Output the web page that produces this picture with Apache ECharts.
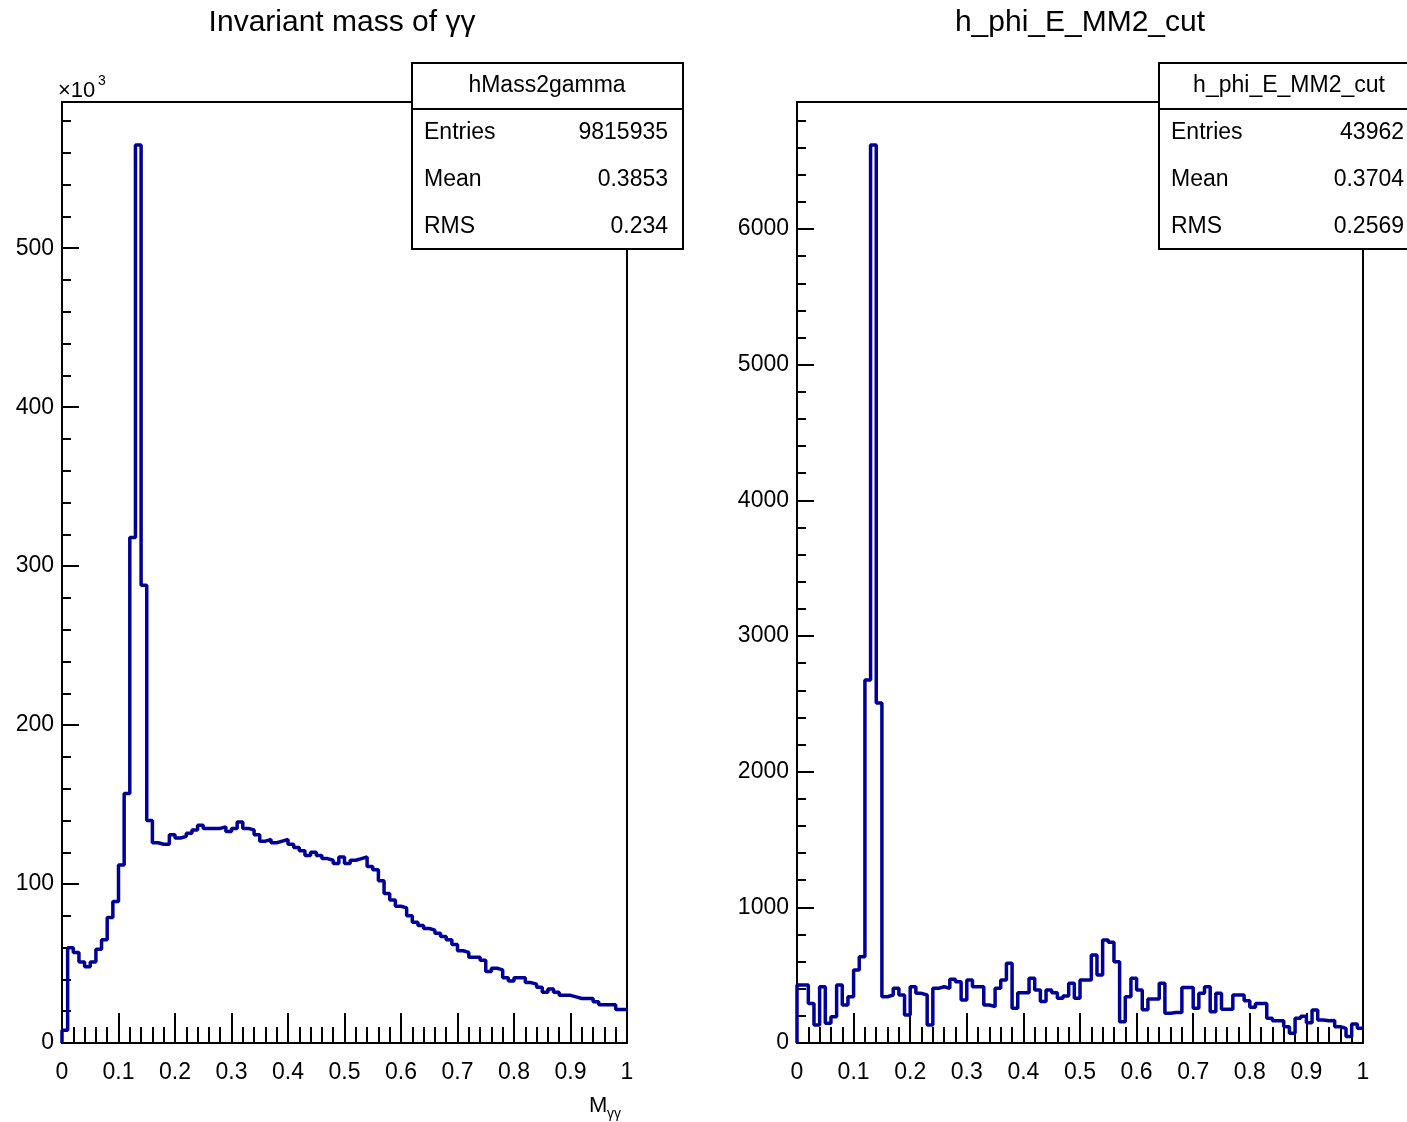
<!DOCTYPE html>
<html>
<head>
<meta charset="utf-8">
<title>Invariant mass of γγ</title>
<script src="https://cdn.jsdelivr.net/npm/echarts@6/dist/echarts.min.js"></script>
<style>
  html, body { margin: 0; padding: 0; background: #fff; }
  #chart { width: 1407px; height: 1122px; }
</style>
</head>
<body>
<div id="chart"></div>
<script>
// 100 bins of width 0.01 on [0, 1]
const binWidth = 0.01

// hMass2gamma, counts in units of 10^3
const massCounts = [
  8, 60, 57, 51, 48, 51, 59, 65, 79, 89,
  112, 157, 318, 565, 288, 140, 126, 125, 125, 131,
  129, 130, 132, 134, 137, 135, 135, 135, 136, 133,
  135, 139, 135, 134, 131, 127, 128, 126, 127, 128,
  125, 123, 121, 118, 120, 118, 116, 115, 113, 117,
  113, 115, 116, 117, 111, 109, 102, 94, 90, 86,
  85, 80, 76, 74, 72, 71, 69, 67, 65, 62,
  58, 57, 54, 54, 52, 45, 47, 46, 41, 39,
  41, 41, 38, 37, 35, 32, 34, 32, 30, 30,
  29, 28, 28, 28, 26, 24, 24, 24, 21, 21
]

// h_phi_E_MM2_cut counts
const cutCounts = [
  427, 427, 292, 133, 415, 145, 194, 427, 280, 341,
  538, 636, 2676, 6619, 2506, 341, 354, 403, 354, 206,
  415, 366, 354, 133, 403, 415, 403, 469, 452, 317,
  464, 415, 415, 280, 268, 403, 464, 587, 256, 371,
  371, 477, 391, 305, 391, 371, 329, 346, 440, 329,
  464, 464, 649, 501, 759, 742, 599, 157, 341, 477,
  391, 246, 325, 325, 440, 219, 225, 225, 410, 410,
  256, 366, 415, 231, 366, 248, 248, 354, 354, 312,
  263, 292, 292, 182, 164, 164, 120, 71, 182, 198,
  150, 243, 170, 164, 166, 120, 108, 47, 140, 108
]

const massStats = [['Entries', '9815935'], ['Mean', '0.3853'], ['RMS', '0.234']]
const cutStats = [['Entries', '43962'], ['Mean', '0.3704'], ['RMS', '0.2569']]

const font = '"Liberation Sans", Arial, sans-serif'
const lineColor = '#000099'

function stepPoints(counts) {
  const pts = counts.map((v, i) => [+(i * binWidth).toFixed(2), v])
  pts.unshift([0, 0])
  pts.push([1, counts[counts.length - 1]])
  return pts
}

function xAxisFor(gridIndex) {
  return {
    type: 'value',
    gridIndex,
    min: 0,
    max: 1,
    interval: 0.1,
    axisLine: { lineStyle: { color: '#000', width: 2 } },
    axisTick: { inside: true, length: 30, lineStyle: { color: '#000', width: 2 } },
    minorTick: { show: true, splitNumber: 5, length: 16, lineStyle: { color: '#000', width: 2 } },
    splitLine: { show: false },
    axisLabel: { color: '#000', fontSize: 23, fontFamily: font, margin: 18 }
  }
}

function yAxisFor(gridIndex, max, step) {
  return {
    type: 'value',
    gridIndex,
    min: 0,
    max,
    interval: step,
    axisLine: { lineStyle: { color: '#000', width: 2 } },
    axisTick: { inside: true, length: 17, lineStyle: { color: '#000', width: 2 } },
    minorTick: { show: true, splitNumber: 5, length: 9, lineStyle: { color: '#000', width: 2 } },
    splitLine: { show: false },
    axisLabel: {
      color: '#000', fontSize: 23, fontFamily: font, margin: 8,
      formatter: (v) => (v % step === 0 ? String(v) : '')
    }
  }
}

function text(x, y, str, size, align) {
  return {
    type: 'text', x, y, z: 120,
    style: {
      text: str, fill: '#000', fontSize: size, fontFamily: font,
      align: align, textAlign: align, verticalAlign: 'middle', textVerticalAlign: 'middle'
    }
  }
}

// stats box like ROOT's TPaveStats
function statsBox(x, w, titleX, valueX, name, rows) {
  const els = [
    { type: 'rect', z: 110, shape: { x, y: 63, width: w, height: 186 },
      style: { fill: '#fff', stroke: '#000', lineWidth: 2 } },
    { type: 'line', z: 111, shape: { x1: x, y1: 109, x2: x + w, y2: 109 },
      style: { stroke: '#000', lineWidth: 2 } },
    text(titleX, 86, name, 23, 'center')
  ]
  rows.forEach((r, i) => {
    els.push(text(x + 12, 133 + i * 47, r[0], 23, 'left'))
    els.push(text(valueX, 133 + i * 47, r[1], 23, 'right'))
  })
  return els
}

const chart = echarts.init(document.getElementById('chart'))

chart.setOption({
  animation: false,
  backgroundColor: '#fff',
  grid: [
    { left: 62, top: 102, width: 565, height: 941, show: true, borderColor: '#000', borderWidth: 2 },
    { left: 797, top: 102, width: 566, height: 941, show: true, borderColor: '#000', borderWidth: 2 }
  ],
  xAxis: [xAxisFor(0), xAxisFor(1)],
  yAxis: [yAxisFor(0, 592, 100), yAxisFor(1, 6936, 1000)],
  series: [
    {
      type: 'line', xAxisIndex: 0, yAxisIndex: 0, step: 'end', symbol: 'none',
      lineStyle: { color: lineColor, width: 3.5 }, data: stepPoints(massCounts)
    },
    {
      type: 'line', xAxisIndex: 1, yAxisIndex: 1, step: 'end', symbol: 'none',
      lineStyle: { color: lineColor, width: 3.5 }, data: stepPoints(cutCounts)
    }
  ],
  graphic: [
    text(342, 23, 'Invariant mass of γγ', 30, 'center'),
    text(1080, 23, 'h_phi_E_MM2_cut', 30, 'center'),
    text(58, 91, '×10', 22, 'left'),
    text(98, 81, '3', 14, 'left'),
    text(589, 1106, 'M', 22, 'left'),
    text(607, 1114, 'γγ', 14, 'left'),
    ...statsBox(412, 271, 547, 668, 'hMass2gamma', massStats),
    ...statsBox(1159, 260, 1289, 1404, 'h_phi_E_MM2_cut', cutStats)
  ]
})
</script>
</body>
</html>
